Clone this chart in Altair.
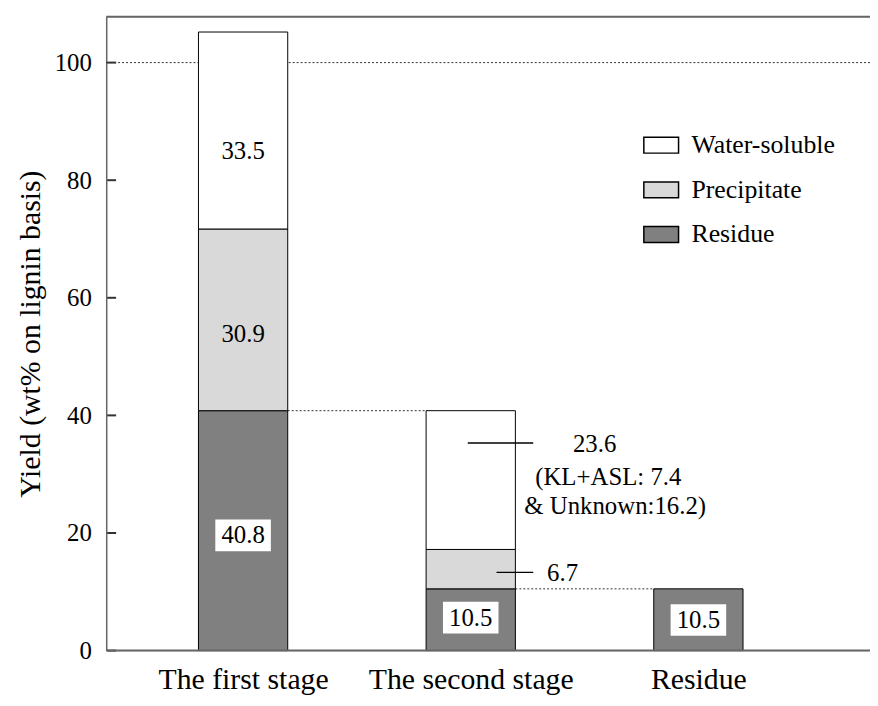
import altair as alt
import pandas as pd

# ---------------- data ----------------
stages = ["The first stage", "The second stage", "Residue"]
parts = ["Water-soluble", "Precipitate", "Residue"]
water_soluble = [33.5, 23.6, 0.0]
precipitate = [30.9, 6.7, 0.0]
residue = [40.8, 10.5, 10.5]
part_colors = ["#ffffff", "#d9d9d9", "#808080"]
y_ticks = [0, 20, 40, 60, 80, 100]

# value labels inside the bars
inbar_stage = ["The first stage", "The first stage", "The first stage", "The second stage", "Residue"]
inbar_text = ["33.5", "30.9", "40.8", "10.5", "10.5"]
inbar_y = [84.9, 53.8, 19.6, 5.6, 5.2]
inbar_boxed = [False, False, True, True, True]

# call-outs of the second stage
callout_text = ["23.6", "(KL+ASL: 7.4", "& Unknown:16.2)", "6.7"]
callout_y = [35.1, 29.5, 24.6, 13.1]
leader_y = [35.3, 13.3]

# dotted guide lines
ref_y = [100]
link_from = ["The first stage", "The second stage"]
link_to = ["The second stage", "Residue"]
link_y = [40.8, 10.5]

# ---------------- layout ----------------
W, H = 770, 639
FONT = "Liberation Serif"

rows = []
for i, s in enumerate(stages):
    for p, vals, o in [("Residue", residue, 0), ("Precipitate", precipitate, 1),
                       ("Water-soluble", water_soluble, 2)]:
        if vals[i] > 0:
            rows.append({"stage": s, "part": p, "value": vals[i], "ord": o})
bars_df = pd.DataFrame(rows)

xscale = alt.Scale(type="point", domain=stages, range=[138, 597], padding=0)
yscale = alt.Scale(domain=[0, 107.8], nice=False, zero=True)

xaxis = alt.Axis(title=None, labelAngle=0, labelFontSize=30, labelPadding=14,
                 labelLimit=500, labelOverlap=False,
                 ticks=False, domain=False, grid=False, labelColor="black",
                 labelFont=FONT)
yaxis = alt.Axis(title="Yield (wt% on lignin basis)", values=y_ticks, tickSize=0,
                 domain=True, domainColor="#666666", domainWidth=1.5, grid=False,
                 labelFontSize=25, labelPadding=15, labelColor="black", labelFont=FONT,
                 titleFontSize=30, titleFontWeight="normal", titleColor="black",
                 titleFont=FONT, titlePadding=9)

X = lambda f: alt.X(f, type="nominal", scale=xscale, axis=xaxis, sort=stages)
Y = lambda f: alt.Y(f, type="quantitative", scale=yscale, axis=yaxis)

# reference line at 100
ref = alt.Chart(pd.DataFrame({"y": ref_y})).mark_rule(
    color="#333333", strokeWidth=1, strokeDash=[2, 2]
).encode(y=Y("y"), x=alt.value(0), x2=alt.value(W))

links = alt.Chart(pd.DataFrame({"from": link_from, "to": link_to, "y": link_y})).mark_rule(
    color="#333333", strokeWidth=1, strokeDash=[2, 2], xOffset=45, x2Offset=-45
).encode(x=X("from"), x2=alt.X2("to"), y=Y("y"))

bars = alt.Chart(bars_df).mark_bar(size=90, stroke="black", strokeWidth=1, opacity=1).encode(
    x=X("stage"),
    y=alt.Y("value", type="quantitative", scale=yscale, axis=yaxis, stack="zero"),
    color=alt.Color("part:N", scale=alt.Scale(domain=parts, range=part_colors),
                    legend=alt.Legend(title=None, orient="none", legendX=541, legendY=111,
                                      symbolType="M-1,-0.457L1,-0.457L1,0.457L-1,0.457Z",
                                      symbolSize=1225, symbolStrokeColor="black",
                                      symbolStrokeWidth=1.5, symbolOpacity=1,
                                      labelFont=FONT, labelFontSize=26, labelColor="black",
                                      labelOffset=12, rowPadding=13, padding=0)),
    order=alt.Order("ord:Q", sort="ascending"),
)

inbar_df = pd.DataFrame({"stage": inbar_stage, "y": inbar_y, "t": inbar_text, "boxed": inbar_boxed})

boxes = alt.Chart(inbar_df[inbar_df["boxed"]]).mark_point(
    shape="M-1,-0.571L1,-0.571L1,0.571L-1,0.571Z", size=3136, filled=True,
    fill="white", opacity=1, strokeWidth=0
).encode(x=X("stage"), y=Y("y"))

inbar = alt.Chart(inbar_df).mark_text(font=FONT, fontSize=25, color="black",
                                      baseline="middle", align="center").encode(
    x=X("stage"), y=Y("y"), text="t:N")

sec = "The second stage"
lead1 = alt.Chart(pd.DataFrame({"stage": [sec], "y": [leader_y[0]]})).mark_rule(
    color="black", strokeWidth=1.5, xOffset=-3, x2Offset=63
).encode(x=X("stage"), x2=alt.X2("stage"), y=Y("y"))
lead2 = alt.Chart(pd.DataFrame({"stage": [sec], "y": [leader_y[1]]})).mark_rule(
    color="black", strokeWidth=1.5, xOffset=26, x2Offset=63
).encode(x=X("stage"), x2=alt.X2("stage"), y=Y("y"))

callout_dx = [103, 65, 54, 77]
callouts = []
for t, yv, dx in zip(callout_text, callout_y, callout_dx):
    callouts.append(
        alt.Chart(pd.DataFrame({"stage": [sec], "y": [yv], "t": [t]})).mark_text(
            font=FONT, fontSize=25, color="black", align="left", baseline="middle", dx=dx
        ).encode(x=X("stage"), y=Y("y"), text="t:N")
    )

ticks = alt.Chart(pd.DataFrame({"y": y_ticks})).mark_rule(
    color="#333333", strokeWidth=2
).encode(y=Y("y"), x=alt.value(1), x2=alt.value(10))

top_line = alt.Chart(pd.DataFrame({"y": [0]})).mark_rule(
    color="#666666", strokeWidth=2
).encode(y=alt.value(0), x=alt.value(0), x2=alt.value(W))
bottom_line = alt.Chart(pd.DataFrame({"y": [0]})).mark_rule(
    color="#666666", strokeWidth=2
).encode(y=Y("y"), x=alt.value(0), x2=alt.value(W))

chart = alt.layer(
    ref, links, bars, boxes, inbar, lead1, lead2, *callouts, ticks, top_line, bottom_line
).properties(
    width=W, height=H,
    autosize=alt.AutoSizeParams(type="none"),
    padding={"left": 99, "top": 6, "right": 0, "bottom": 45},
).configure_view(strokeWidth=0).configure(font=FONT, background="white")

chart.save("out.html", embed_options={"renderer": "svg", "actions": False})
